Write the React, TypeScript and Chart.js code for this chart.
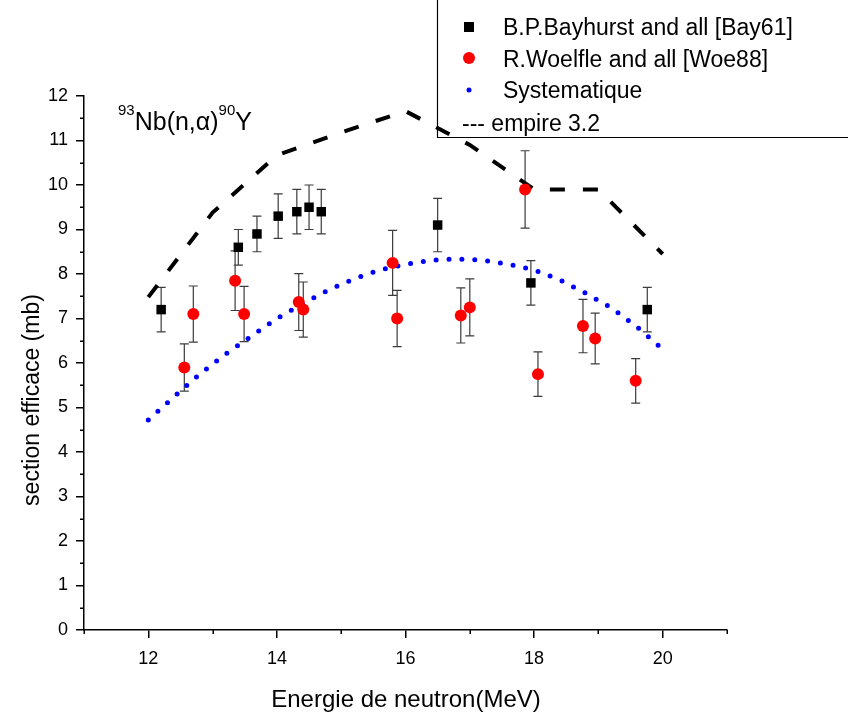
import React, { useEffect, useRef } from 'react';
import { Chart, registerables } from 'chart.js';

Chart.register(...registerables);

const FONT = '"Liberation Sans", Arial, Helvetica, sans-serif';

// B.P.Bayhurst and all [Bay61]
const bayEnergy = [12.2, 13.4, 13.69, 14.02, 14.31, 14.5, 14.69, 16.5, 17.95, 19.76];
const baySigma = [7.2, 8.6, 8.9, 9.3, 9.4, 9.5, 9.4, 9.1, 7.8, 7.2];
const bayErr = [0.5, 0.4, 0.4, 0.5, 0.5, 0.5, 0.5, 0.6, 0.5, 0.5];

// R.Woelfle and all [Woe88]
const woeEnergy = [12.56, 12.7, 13.35, 13.49, 14.34, 14.41, 15.8, 15.87, 16.86, 17.0, 17.86, 18.06, 18.76, 18.95, 19.58];
const woeSigma = [5.9, 7.1, 7.85, 7.1, 7.37, 7.2, 8.25, 7.0, 7.07, 7.25, 9.9, 5.75, 6.83, 6.55, 5.6];
const woeErr = [0.53, 0.63, 0.67, 0.62, 0.64, 0.62, 0.73, 0.63, 0.62, 0.64, 0.87, 0.5, 0.6, 0.57, 0.5];

// Systematique
const sysEnergy = [12, 12.4, 12.8, 13.2, 13.6, 14.0, 14.4, 14.8, 15.2, 15.6, 16.0, 16.4, 16.8, 17.2, 17.6, 18.0, 18.4, 18.8, 19.2, 19.6, 20.0];
const sysSigma = [4.72, 5.24, 5.75, 6.2, 6.6, 7.0, 7.33, 7.64, 7.89, 8.09, 8.22, 8.31, 8.34, 8.31, 8.22, 8.09, 7.87, 7.57, 7.24, 6.81, 6.31];

// empire 3.2
const empEnergy = [12, 13, 14, 15, 16, 17, 18, 19, 20];
const empSigma = [7.48, 9.38, 10.67, 11.18, 11.66, 10.9, 9.9, 9.9, 8.45];

// axes ticks
const xMajorTicks = [12, 14, 16, 18, 20];
const xMinorTicks = [11, 13, 15, 17, 19, 21];
const yMinorTicks = [0.5, 1.5, 2.5, 3.5, 4.5, 5.5, 6.5, 7.5, 8.5, 9.5, 10.5, 11.5];

const xTitle = 'Energie de neutron(MeV)';
const yTitle = 'section efficace (mb)';

const pts = (xs: number[], ys: number[]) => xs.map((x, i) => ({ x, y: ys[i] }));

export default function App() {
  const ref = useRef<HTMLCanvasElement>(null);

  useEffect(() => {
    const canvas = ref.current!;

    const decor = {
      id: 'decor',
      beforeDatasetsDraw(chart: any) {
        const { ctx, scales } = chart;
        const sx = scales.x;
        const sy = scales.y;
        ctx.save();
        ctx.strokeStyle = '#3c3c3c';
        ctx.lineWidth = 1.2;
        const drawErr = (xs: number[], ys: number[], es: number[]) => {
          xs.forEach((xv, i) => {
            const px = sx.getPixelForValue(xv);
            const top = sy.getPixelForValue(ys[i] + es[i]);
            const bot = sy.getPixelForValue(ys[i] - es[i]);
            ctx.beginPath();
            ctx.moveTo(px, top);
            ctx.lineTo(px, bot);
            ctx.moveTo(px - 4.5, top);
            ctx.lineTo(px + 4.5, top);
            ctx.moveTo(px - 4.5, bot);
            ctx.lineTo(px + 4.5, bot);
            ctx.stroke();
          });
        };
        drawErr(bayEnergy, baySigma, bayErr);
        drawErr(woeEnergy, woeSigma, woeErr);
        ctx.restore();
      },
      afterDraw(chart: any) {
        const { ctx, scales, chartArea } = chart;
        const sx = scales.x;
        const sy = scales.y;
        ctx.save();
        // minor ticks
        ctx.strokeStyle = '#000';
        ctx.lineWidth = 1.5;
        ctx.beginPath();
        xMinorTicks.forEach((v) => {
          const px = Math.round(sx.getPixelForValue(v)) + 0.25;
          ctx.moveTo(px, chartArea.bottom);
          ctx.lineTo(px, chartArea.bottom + 4);
        });
        yMinorTicks.forEach((v) => {
          const py = Math.round(sy.getPixelForValue(v)) + 0.25;
          ctx.moveTo(chartArea.left, py);
          ctx.lineTo(chartArea.left - 4, py);
        });
        ctx.stroke();

        // axis titles
        ctx.fillStyle = '#000';
        ctx.font = `24px ${FONT}`;
        ctx.textAlign = 'center';
        ctx.textBaseline = 'alphabetic';
        ctx.fillText(xTitle, 406, 707);
        ctx.save();
        ctx.translate(39, 400);
        ctx.rotate(-Math.PI / 2);
        ctx.font = `23px ${FONT}`;
        ctx.fillText(yTitle, 0, 0);
        ctx.restore();

        // reaction label
        ctx.textAlign = 'left';
        let x = 118;
        ctx.font = `15px ${FONT}`;
        ctx.fillText('93', x, 115);
        x += ctx.measureText('93').width;
        ctx.font = `25px ${FONT}`;
        ctx.fillText('Nb(n,\u03b1)', x, 130);
        x += ctx.measureText('Nb(n,\u03b1)').width;
        ctx.font = `15px ${FONT}`;
        ctx.fillText('90', x, 115);
        x += ctx.measureText('90').width;
        ctx.font = `25px ${FONT}`;
        ctx.fillText('Y', x, 130);

        // legend box
        ctx.strokeStyle = '#000';
        ctx.lineWidth = 1.2;
        ctx.beginPath();
        ctx.moveTo(437.5, 0);
        ctx.lineTo(437.5, 137.5);
        ctx.lineTo(848, 137.5);
        ctx.stroke();

        const ds = chart.data.datasets;
        ctx.font = `23px ${FONT}`;
        ctx.fillStyle = '#000';
        // square
        ctx.fillRect(464, 22, 10, 10);
        ctx.fillText(ds[0].label, 503, 35);
        // circle
        ctx.fillStyle = ds[1].backgroundColor;
        ctx.beginPath();
        ctx.arc(469, 58, 6, 0, Math.PI * 2);
        ctx.fill();
        ctx.fillStyle = '#000';
        ctx.fillText(ds[1].label, 503, 67);
        // dot
        ctx.fillStyle = ds[2].borderColor;
        ctx.beginPath();
        ctx.arc(469, 90, 2.5, 0, Math.PI * 2);
        ctx.fill();
        ctx.fillStyle = '#000';
        ctx.fillText(ds[2].label, 503, 98);
        // empire
        ctx.fillText('--- ' + ds[3].label, 462, 131);
        ctx.restore();
      },
    };

    const chart = new Chart(canvas, {
      type: 'scatter',
      data: {
        datasets: [
          {
            label: 'B.P.Bayhurst and all [Bay61]',
            data: pts(bayEnergy, baySigma),
            pointStyle: 'rect',
            pointRadius: 6.7,
            backgroundColor: '#000',
            borderColor: '#000',
            borderWidth: 0,
            showLine: false,
          },
          {
            label: 'R.Woelfle and all [Woe88]',
            data: pts(woeEnergy, woeSigma),
            pointStyle: 'circle',
            pointRadius: 6,
            backgroundColor: '#ff0000',
            borderColor: '#ff0000',
            borderWidth: 0,
            showLine: false,
          },
          {
            label: 'Systematique',
            data: pts(sysEnergy, sysSigma),
            showLine: true,
            pointRadius: 0,
            borderColor: '#0000ff',
            backgroundColor: '#0000ff',
            borderWidth: 5,
            borderDash: [0, 12.9],
            borderCapStyle: 'round',
            tension: 0,
          },
          {
            label: 'empire 3.2',
            data: pts(empEnergy, empSigma),
            showLine: true,
            pointRadius: 0,
            borderColor: '#000',
            backgroundColor: '#000',
            borderWidth: 4,
            borderDash: [15, 18],
            borderCapStyle: 'butt',
            tension: 0,
          },
        ],
      },
      options: {
        animation: false,
        responsive: false,
        devicePixelRatio: 1,
        layout: { padding: { top: 96, right: 121, left: 0, bottom: 0 } },
        plugins: {
          legend: { display: false },
          tooltip: { enabled: false },
          title: { display: false },
        },
        scales: {
          x: {
            type: 'linear',
            min: 11,
            max: 21,
            afterFit: (scale: any) => {
              scale.height = 88;
            },
            afterBuildTicks: (scale: any) => {
              scale.ticks = xMajorTicks.map((v) => ({ value: v }));
            },
            border: { display: true, color: '#000', width: 1.5 },
            grid: {
              drawOnChartArea: false,
              drawTicks: true,
              tickLength: 8,
              color: '#000',
              lineWidth: 1.5,
            },
            ticks: {
              autoSkip: false,
              maxRotation: 0,
              padding: 10,
              color: '#000',
              font: { family: FONT, size: 18 },
            },
          },
          y: {
            type: 'linear',
            min: 0,
            max: 12,
            afterFit: (scale: any) => {
              scale.width = 84;
            },
            border: { display: true, color: '#000', width: 1.5 },
            grid: {
              drawOnChartArea: false,
              drawTicks: true,
              tickLength: 8,
              color: '#000',
              lineWidth: 1.5,
            },
            ticks: {
              stepSize: 1,
              autoSkip: false,
              padding: 8,
              color: '#000',
              font: { family: FONT, size: 18 },
            },
          },
        },
      },
      plugins: [decor],
    } as any);

    return () => chart.destroy();
  }, []);

  return (
    <canvas
      ref={ref}
      width={848}
      height={718}
      style={{ position: 'absolute', left: 0, top: 0, display: 'block' }}
    />
  );
}
